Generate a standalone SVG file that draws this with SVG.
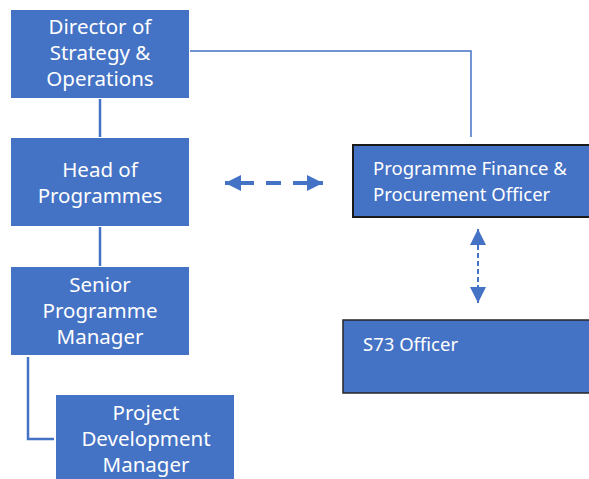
<svg xmlns="http://www.w3.org/2000/svg" width="589" height="479" viewBox="0 0 589 479">
<style>
.box{fill:#4472C4}
.t{fill:#fff;font-family:"Noto Sans","Open Sans","Liberation Sans",sans-serif;font-size:20.5px;text-anchor:middle}
.tl{fill:#fff;font-family:"Noto Sans","Open Sans","Liberation Sans",sans-serif;font-size:18.5px}
.ln{stroke:#4472C4;fill:none}
</style>
<defs>
<marker id="ah" viewBox="0 0 16 16" refX="16" refY="8" markerWidth="16" markerHeight="16" markerUnits="userSpaceOnUse" orient="auto-start-reverse">
<path d="M0,0 L16,8 L0,16 Z" fill="#4472C4"/>
</marker>
</defs>
<g id="connectors">
<polyline class="ln" points="190,51 471,51 471,137" stroke-width="1.5"/>
<line class="ln" x1="100" y1="99" x2="100" y2="137" stroke-width="2.5"/>
<line class="ln" x1="100" y1="227" x2="100" y2="266" stroke-width="2.5"/>
<polyline class="ln" points="28,357 28,439 54,439" stroke-width="2.5"/>
<line class="ln" x1="225" y1="183" x2="323" y2="183" stroke-width="4" stroke-dasharray="29,12,15,12,30" marker-start="url(#ah)" marker-end="url(#ah)"/>
<line class="ln" x1="478" y1="229" x2="478" y2="303" stroke-width="2" stroke-dasharray="5,3" marker-start="url(#ah)" marker-end="url(#ah)"/>
</g>
<g id="director">
<rect class="box" x="11" y="10" width="178" height="88"/>
<text class="t" x="100" y="34">Director of</text>
<text class="t" x="100" y="60">Strategy &amp;</text>
<text class="t" x="100" y="86">Operations</text>
</g>
<g id="head">
<rect class="box" x="11" y="138" width="178" height="88"/>
<text class="t" x="100" y="177">Head of</text>
<text class="t" x="100" y="203">Programmes</text>
</g>
<g id="senior">
<rect class="box" x="11" y="267" width="178" height="88"/>
<text class="t" x="100" y="292">Senior</text>
<text class="t" x="100" y="318">Programme</text>
<text class="t" x="100" y="344">Manager</text>
</g>
<g id="project">
<rect class="box" x="56" y="395" width="178" height="90"/>
<text class="t" x="146" y="420">Project</text>
<text class="t" x="146" y="446">Development</text>
<text class="t" x="146" y="472">Manager</text>
</g>
<g id="finance">
<rect class="box" x="353" y="145" width="240" height="72" stroke="#1a1a1a" stroke-width="2"/>
<text class="tl" x="373" y="175">Programme Finance &amp;</text>
<text class="tl" x="373" y="201">Procurement Officer</text>
</g>
<g id="s73">
<rect class="box" x="343" y="320" width="250" height="73" stroke="#262626" stroke-width="1.5"/>
<text class="tl" x="363" y="351">S73 Officer</text>
</g>
</svg>
